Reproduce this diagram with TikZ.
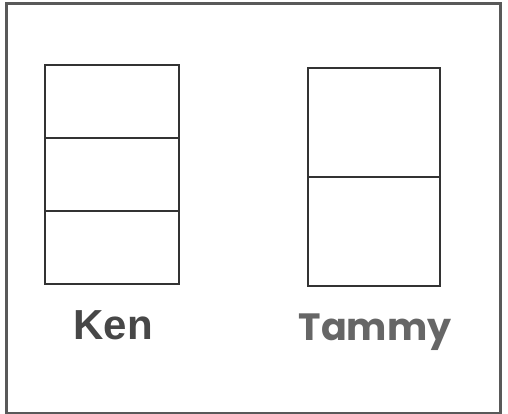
\documentclass[tikz,border=0pt]{standalone}
\usepackage{fontspec}
\setmainfont{Liberation Sans}
\newfontfamily\tamfont{Poppins}
\begin{document}
\begin{tikzpicture}[x=1pt,y=-1pt,
  cell/.style={draw=black!80,line width=2.2pt,rectangle,inner sep=0pt,anchor=north west},
  kencell/.style={cell,minimum width=134pt,minimum height=73pt},
  tamcell/.style={cell,minimum width=132pt,minimum height=109pt},
  lbl/.style={inner sep=0pt,anchor=base}]
\useasboundingbox (0,0) rectangle (508,414);
\fill[white] (0,0) rectangle (508,414);
\node[draw=black!65,line width=3.5pt,rectangle,inner sep=0pt,anchor=north west,minimum width=494pt,minimum height=410pt] (frame) at (4.5,2) {};
\node[kencell] (k1) at (44,64) {};
\node[kencell] (k2) at (44,137) {};
\node[kencell] (k3) at (44,210) {};
\node[tamcell] (t1) at (307,67) {};
\node[tamcell] (t2) at (307,176) {};
\node[lbl,text=black!72,font=\fontsize{42}{42}\selectfont\bfseries] (ken) at (113,339) {Ken};
\node[lbl,text=black!60,font=\fontsize{38}{38}\tamfont\bfseries] (tammy) at (375,340) {Tammy};
\end{tikzpicture}
\end{document}
